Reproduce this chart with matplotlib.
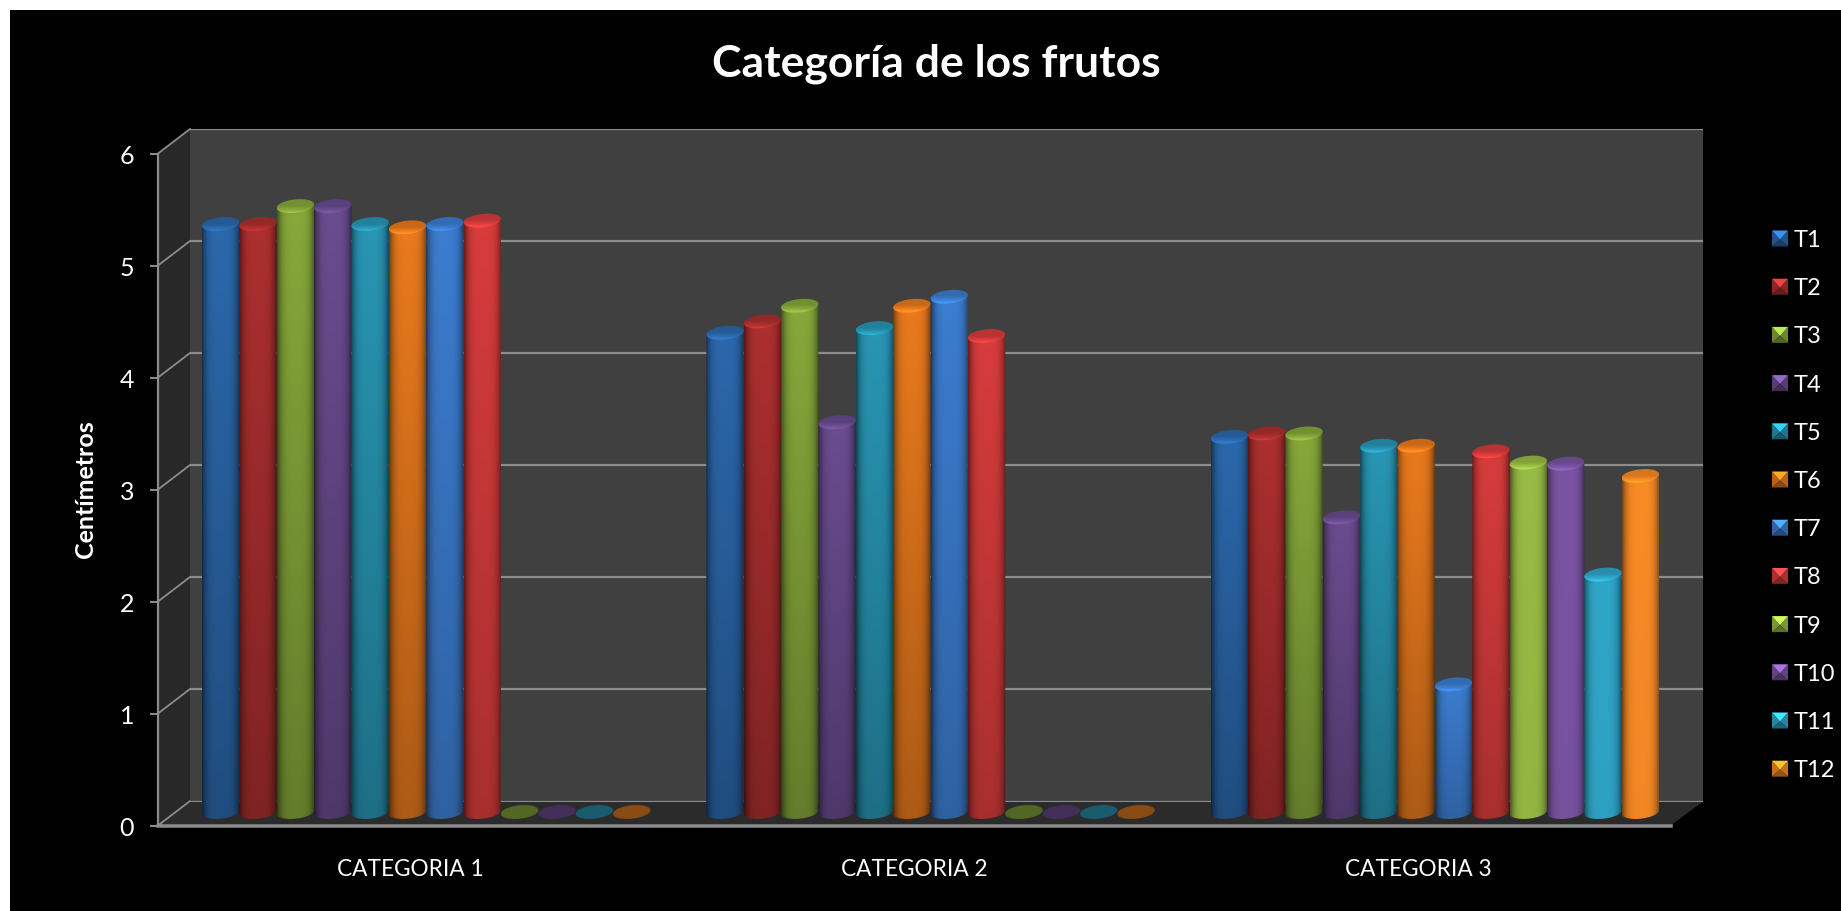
"""Categoría de los frutos: cilindros tipo Excel 3D dibujados en matplotlib."""

import matplotlib

matplotlib.use("Agg")
import matplotlib.pyplot as plt
import numpy as np
from matplotlib.colors import to_rgb
from matplotlib.patches import Polygon

plt.rcParams["font.family"] = ["Lato", "DejaVu Sans"]

categories = ["CATEGORIA 1", "CATEGORIA 2", "CATEGORIA 3"]
series_names = ["T1", "T2", "T3", "T4", "T5", "T6", "T7", "T8", "T9", "T10", "T11", "T12"]

cat1_values = [5.25, 5.25, 5.41, 5.41, 5.25, 5.22, 5.25, 5.28, 0, 0, 0, 0]
cat2_values = [4.28, 4.38, 4.52, 3.48, 4.32, 4.52, 4.60, 4.25, 0, 0, 0, 0]
cat3_values = [3.35, 3.38, 3.38, 2.63, 3.27, 3.27, 1.14, 3.22, 3.12, 3.11, 2.12, 3.00]
all_values = [cat1_values, cat2_values, cat3_values]

y_ticks = [0, 1, 2, 3, 4, 5, 6]

series_colors = ["#2b68ac", "#ad2f2f", "#86a83a", "#6a4c90", "#2896b4", "#e97a1d",
                 "#3c7dd0", "#d83c3c", "#97bb44", "#7a54a3", "#2fa6c8", "#f98b25"]
# cuanto se oscurece cada serie al pie del cilindro
foot_shade = [0.74, 0.74, 0.74, 0.74, 0.74, 0.74, 0.78, 0.78, 0.97, 0.97, 0.97, 0.97]

W, H = 1841, 912
GRID = "#8c8c8c"
BAR_W = 0.0741
RX = BAR_W / 2
RY = 0.06  # alto de la elipse, en centímetros
TILT = 0.016  # la elipse sube hacia la derecha
DY = 1.5  # ajuste vertical de las paredes, en pixeles


def px_rect(left, top, right, bottom):
    return [left / W, 1 - bottom / H, (right - left) / W, (bottom - top) / H]


def lw(px):
    return px * 0.72


def ellipse_xy(xc, yc, t):
    return xc + RX * np.cos(t), yc + RY * np.sin(t) + TILT * np.cos(t)


def draw_image(ax, rgb, xc, y0, y1, clip_xy, z):
    patch = Polygon(clip_xy, closed=True, transform=ax.transData, fc="none", ec="none")
    ax.add_patch(patch)
    im = ax.imshow(rgb, extent=[xc - RX, xc + RX, y0, y1], origin="lower", aspect="auto",
                   interpolation="bilinear", zorder=z)
    im.set_clip_path(patch)


def draw_cylinder(ax, xc, value, color, foot, z):
    base = np.array(to_rgb(color))
    if value == 0:
        t = np.linspace(0, 2 * np.pi, 60)
        ex, ey = ellipse_xy(xc, 0, t)
        ax.fill(ex, ey, color=base * 0.55, lw=0, zorder=z)
        return

    # cuerpo: bordes oscuros y mas claro hacia arriba
    u = np.linspace(-1, 1, 40)
    v = np.linspace(0, 1, 60)
    side = 1 - 0.5 * np.abs(u) ** 4
    up = foot + (1 - foot) * v
    body = np.clip(base[None, None, :] * (up[:, None] * side[None, :])[:, :, None], 0, 1)
    t = np.linspace(np.pi, 2 * np.pi, 30)
    bx, by = ellipse_xy(xc, 0, t)
    clip = np.concatenate([
        [[xc - RX, value - TILT]],
        np.column_stack([bx, by]),
        [[xc + RX, value + TILT]],
    ])
    draw_image(ax, body, xc, -RY - TILT, value + TILT, clip, z)

    # tapa: oscura arriba, con brillo en el borde de delante
    v = np.linspace(0, 1, 30)
    rim = np.interp(v, [0, 0.08, 0.25, 0.5, 1], [1.0, 1.25, 1.05, 0.86, 0.86])
    top = np.clip(base[None, None, :] * rim[:, None, None] * np.ones((30, 10, 1)), 0, 1)
    t = np.linspace(0, 2 * np.pi, 60)
    ex, ey = ellipse_xy(xc, value, t)
    draw_image(ax, top, xc, value - RY - TILT, value + RY + TILT, np.column_stack([ex, ey]), z + 0.5)


fig = plt.figure(figsize=(W / 100, H / 100), dpi=100, facecolor="white")

# sala: fondo negro, pared lateral y suelo en pixeles
room = fig.add_axes([0, 0, 1, 1], zorder=0)
room.set_xlim(0, W)
room.set_ylim(H, 0)
room.axis("off")
room.add_patch(Polygon([(10, 10.7), (W, 10.7), (W, H), (10, H)], fc="black", ec="none"))
room.add_patch(Polygon([(158, 153 + DY), (190, 128 + DY), (190, 801 + DY), (158, 825 + DY)],
                       fc="#282828", ec="none"))
room.add_patch(Polygon([(158, 825 + DY), (190, 801 + DY), (1703, 801 + DY), (1670.7, 825 + DY)],
                       fc="#2b2b2b", ec="none"))
for tick in y_ticks:
    y_front = 825 + DY - tick * 112
    room.plot([158, 190], [y_front, y_front - 24.5], color=GRID, lw=lw(1.8))

# pared del fondo con la rejilla
back = fig.add_axes(px_rect(190, 128 + DY, 1703, 801 + DY), zorder=1, facecolor="#404040")
back.set_ylim(0, 6)
back.set_xlim(-0.5, 2.5)
back.set_xticks([])
back.set_yticks(y_ticks)
back.tick_params(left=False, labelleft=False)
back.grid(axis="y", color=GRID, lw=lw(2.2))
back.set_axisbelow(False)
for s in back.spines.values():
    s.set_visible(False)

# ejes de delante
front = fig.add_axes(px_rect(158, 153 + DY, 1670.7, 825 + DY), zorder=2, facecolor="none")
front.set_xlim(-0.5, 2.5)
front.set_ylim(0, 6)
front.set_yticks(y_ticks)
front.set_xticks(range(len(categories)))
front.set_xticklabels(categories)
front.tick_params(axis="y", length=lw(8), width=lw(2), color=GRID, pad=lw(16), labelsize=18,
                  labelcolor="white")
front.tick_params(axis="x", length=0, pad=lw(33), labelsize=16.3, labelcolor="white")
front.spines["top"].set_visible(False)
front.spines["right"].set_visible(False)
front.spines["left"].set_color(GRID)
front.spines["left"].set_linewidth(lw(2.2))
front.spines["bottom"].set_color(GRID)
front.spines["bottom"].set_linewidth(lw(3.5))
front.set_ylabel("Centímetros", color="white", fontsize=18, fontweight="bold", va="center")
front.yaxis.set_label_coords((85 - 158) / (1670.7 - 158), (825 - 488) / 672)

# cilindros a media profundidad
FLOOR_PAD = 0.2
bars = fig.add_axes(px_rect(174, 813 - 672, 1687, 813 + FLOOR_PAD * 112), zorder=3, facecolor="none")
bars.axis("off")
z = 1
for c, values in enumerate(all_values):
    for i, value in enumerate(values):
        draw_cylinder(bars, c + (i - 5.5) * BAR_W, value, series_colors[i], foot_shade[i], z)
        z += 1
bars.set_xlim(-0.5, 2.5)
bars.set_ylim(-FLOOR_PAD, 6)

# leyenda con cuadritos biselados
legend = fig.add_axes([0, 0, 1, 1], zorder=4, facecolor="none")
legend.set_xlim(0, W)
legend.set_ylim(H, 0)
legend.axis("off")
for i, (name, color) in enumerate(zip(series_names, series_colors)):
    base = np.array(to_rgb(color))
    x0, y0 = 1772, 231.5 + i * 48.2
    x1, y1 = x0 + 16, y0 + 16
    cx, cy = x0 + 8, y0 + 9
    legend.add_patch(Polygon([(x0, y0), (x0, y1), (cx, cy)], fc=base * 0.8, ec="none"))
    legend.add_patch(Polygon([(x1, y0), (x1, y1), (cx, cy)], fc=base * 0.8, ec="none"))
    legend.add_patch(Polygon([(x0, y1), (x1, y1), (cx, cy)], fc=base * 0.6, ec="none"))
    legend.add_patch(Polygon([(x0, y0), (x1, y0), (cx, cy)], fc=np.clip(base * 1.4, 0, 1), ec="none"))
    legend.text(1794, y0 + 9, name, color="white", fontsize=17, va="center", ha="left")

fig.text(936 / W, 1 - 63.5 / H, "Categoría de los frutos", color="white", fontsize=32,
         fontweight="bold", ha="center", va="center")

fig.savefig("out.png", dpi=100, facecolor=fig.get_facecolor())
